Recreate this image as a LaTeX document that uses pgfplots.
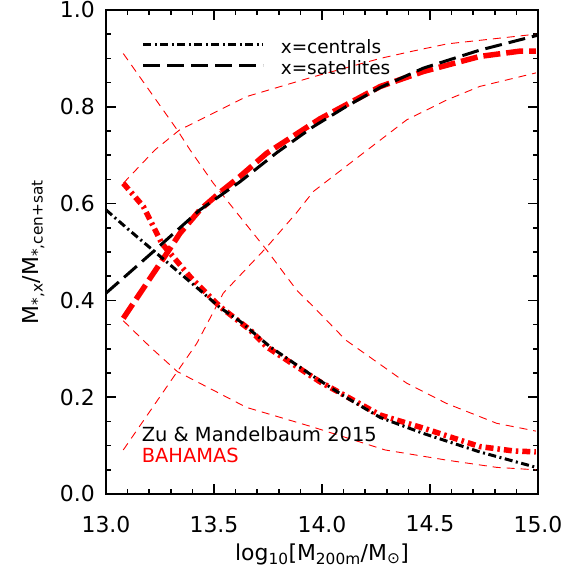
\documentclass[border=0pt]{standalone}
\usepackage{fontspec}
\setmainfont{DejaVu Sans}
\usepackage{pgfplots}
\pgfplotsset{compat=1.18}
\definecolor{bred}{RGB}{255,0,0}

% ZM15 = Zu & Mandelbaum 2015, BH = BAHAMAS; lo/hi = thin scatter bands
\pgfplotstableread{
x y
13.00 0.415
13.10 0.454
13.227 0.504
13.435 0.587
13.62 0.645
13.79 0.705
13.96 0.759
14.11 0.800
14.27 0.840
14.47 0.880
14.73 0.917
15.00 0.948
}\zmsat
\pgfplotstableread{
x y
13.00 0.587
13.10 0.548
13.227 0.500
13.435 0.421
13.528 0.385
13.62 0.357
13.76 0.304
13.96 0.243
14.11 0.200
14.27 0.158
14.47 0.125
14.73 0.087
15.00 0.054
}\zmcen
\pgfplotstableread{
x y
13.08 0.363
13.188 0.435
13.281 0.497
13.343 0.539
13.435 0.587
13.53 0.624
13.62 0.656
13.744 0.704
13.99 0.775
14.27 0.842
14.47 0.873
14.73 0.904
14.917 0.915
14.99 0.915
}\bhsat
\pgfplotstableread{
x y
13.08 0.642
13.173 0.594
13.258 0.518
13.389 0.449
13.528 0.387
13.667 0.339
13.744 0.304
13.99 0.232
14.27 0.163
14.47 0.136
14.73 0.098
14.886 0.089
14.99 0.087
}\bhcen
\pgfplotstableread{
x y
13.08 0.642
13.227 0.711
13.34 0.752
13.65 0.821
13.96 0.862
14.27 0.900
14.42 0.915
14.58 0.930
14.99 0.950
}\bhsathi
\pgfplotstableread{
x y
13.08 0.091
13.33 0.253
13.42 0.311
13.543 0.415
13.744 0.510
13.88 0.580
13.96 0.625
14.19 0.704
14.392 0.773
14.577 0.814
14.73 0.842
14.99 0.870
}\bhsatlo
\pgfplotstableread{
x y
13.08 0.910
13.33 0.752
13.389 0.711
13.497 0.642
13.62 0.573
13.744 0.504
13.883 0.421
13.96 0.387
14.11 0.318
14.392 0.229
14.577 0.187
14.809 0.146
14.99 0.130
}\bhcenhi
\pgfplotstableread{
x y
13.08 0.358
13.204 0.304
13.33 0.253
13.65 0.179
13.96 0.138
14.292 0.091
14.577 0.070
14.809 0.055
14.99 0.050
}\bhcenlo

\tikzset{
  thickdash/.style={line width=3bp, dash pattern=on 17bp off 7bp},
  thickdashdot/.style={line width=3bp, dash pattern=on 8bp off 3.5bp on 2bp off 3.5bp},
  fatdash/.style={line width=5.5bp, dash pattern=on 17bp off 6bp},
  fatdashdot/.style={line width=5.5bp, dash pattern=on 8bp off 4bp on 2.5bp off 4bp},
  thindash/.style={line width=0.9bp, dash pattern=on 8bp off 6bp},
}

\begin{document}
\begin{tikzpicture}[x=1bp,y=1bp]
\path[use as bounding box] (-106,-80) rectangle (471,494);
\begin{axis}[
  at={(0,0)}, anchor=south west,
  scale only axis, width=432bp, height=484bp,
  xmin=13, xmax=15, ymin=0, ymax=1,
  xtick={13,13.5,14,14.5,15},
  ytick={0,0.2,0.4,0.6,0.8,1.0},
  minor x tick num=4, minor y tick num=3,
  tick align=inside,
  major tick length=10bp, minor tick length=5bp,
  every tick/.style={black, line width=1.6bp},
  axis line style={line width=2.2bp},
  /pgf/number format/.cd, fixed, fixed zerofill, precision=1, assume math mode=true,
  /pgfplots/.cd,
  tick label style={font=\fontsize{22}{26}\selectfont},
  xticklabel style={anchor=north, inner sep=0pt, yshift=-21.7bp},
  yticklabel style={anchor=east, inner sep=0pt, xshift=-11bp},
  xlabel={log\textsubscript{10}[M\textsubscript{200m}/M\textsubscript{⊙}]},
  ylabel={M\textsubscript{*,x}/M\textsubscript{*,cen+sat}},
  label style={font=\fontsize{22}{26}\selectfont},
  xlabel style={at={(axis description cs:0.5,-0.1364)}, anchor=base, inner sep=0pt},
  ylabel style={at={(axis description cs:-0.168,0.5)}, anchor=center, inner sep=0pt},
  legend style={draw=none, fill=none, inner sep=0pt, column sep=16bp, row sep=7bp,
    at={(axis description cs:0.0826,0.9395)}, anchor=north west,
    font=\fontsize{18.5}{21}\selectfont,
    nodes={inner sep=0pt, text height=14bp, text depth=0pt}},
  legend cell align=left,
  legend image code/.code={\draw[#1] (0bp,1.5bp) -- (120bp,1.5bp);},
]
\addlegendimage{black, thickdashdot}
\addlegendentry{x=centrals}
\addlegendimage{black, thickdash}
\addlegendentry{x=satellites}

\addplot[bred, thindash, forget plot] table {\bhsathi};
\addplot[bred, thindash, forget plot] table {\bhsatlo};
\addplot[bred, thindash, forget plot] table {\bhcenhi};
\addplot[bred, thindash, forget plot] table {\bhcenlo};
\addplot[bred, fatdash, forget plot] table {\bhsat};
\addplot[bred, fatdashdot, forget plot] table {\bhcen};
\addplot[black, thickdash, forget plot] table {\zmsat};
\addplot[black, thickdashdot, forget plot] table {\zmcen};

\node[anchor=base west, inner sep=0pt, font=\fontsize{19.5}{22}\selectfont]
  at (rel axis cs:0.0826,0.108) {Zu \& Mandelbaum 2015};
\node[anchor=base west, inner sep=0pt, text=bred, font=\fontsize{19.5}{22}\selectfont]
  at (rel axis cs:0.0826,0.0647) {BAHAMAS};
\end{axis}
\end{tikzpicture}
\end{document}
